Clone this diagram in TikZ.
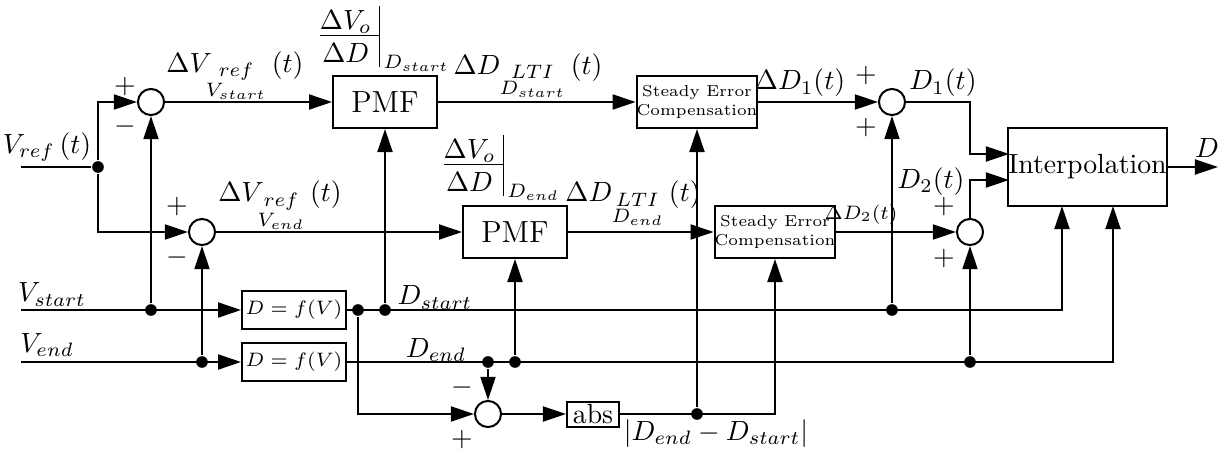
\documentclass[tikz,border=0pt]{standalone}
\usepackage{amsmath}
\usepackage{amssymb}
\usepackage{tikz}
\usetikzlibrary{arrows.meta}

\newcommand{\gainat}[1]{\renewcommand{\arraystretch}{0.5}%
  \begin{array}{@{}c@{\;}|@{}}\rule{0pt}{8.5pt}\Delta V_o\\ \cline{1-1}\rule{0pt}{10pt}\Delta D\end{array}_{\,#1}}
\newcommand{\stacksub}[2]{\underset{\scriptstyle #2}{#1}}

\begin{document}
\begin{tikzpicture}[x=0.36pt, y=-0.36pt, line width=0.72pt,
  >={Triangle[length=8.3pt,width=5.4pt]},
  blk/.style={draw, inner sep=0pt, minimum width=37.4pt, minimum height=18.7pt},
  secblk/.style={blk, align=center, font=\fontsize{5.7}{6.6}\selectfont},
  fblk/.style={draw, inner sep=0pt, minimum width=37.4pt, minimum height=13.7pt, font=\fontsize{7.5}{9}\selectfont},
  sum/.style={draw, circle, inner sep=0pt, minimum size=9.4pt},
  dot/.style={circle, fill, inner sep=0pt, minimum size=4.2pt},
  sgn/.style={inner sep=0pt},
  lbl/.style={anchor=base, inner sep=0pt}]
\useasboundingbox (0,0) rectangle (1223,454);

\coordinate (vin) at (21,167);
\coordinate (vs) at (21,310);
\coordinate (ve) at (21,362);
\node[dot] (jref) at (98,167) {};

\node[sum] (s1) at (151,102) {};
\node[sum] (s2) at (202,232) {};
\node[blk, font=\fontsize{11}{13}\selectfont] (pmf1) at (385,102) {PMF};
\node[blk, font=\fontsize{11}{13}\selectfont] (pmf2) at (515,232) {PMF};
\node[secblk] (sec1) at (697,102) {Steady Error\\Compensation};
\node[secblk] (sec2) at (775,232) {Steady Error\\Compensation};
\node[sum] (s3) at (892,102) {};
\node[sum] (s4) at (970,232) {};
\node[draw, inner sep=0pt, minimum width=56.5pt, minimum height=28.1pt] (interp) at (1087.5,167) {Interpolation};
\coordinate (i1) at (1009,154);
\coordinate (i2) at (1009,180);
\coordinate (ib1) at (1062,206);
\coordinate (ib2) at (1113,206);
\coordinate (out) at (1218,167);

\node[fblk] (fv1) at (294,310) {$D = f(V)$};
\node[fblk] (fv2) at (294,362) {$D = f(V)$};
\node[sum] (s5) at (488,414) {};
\node[draw, inner sep=0pt, minimum width=18.7pt, minimum height=9pt] (abs) at (593,414) {abs};

\node[dot] (d1) at (151,310) {};
\node[dot] (d2) at (202,362) {};
\node[dot] (d3) at (358,310) {};
\node[dot] (d4) at (385,310) {};
\node[dot] (d5) at (488,362) {};
\node[dot] (d6) at (515,362) {};
\node[dot] (d7) at (892,310) {};
\node[dot] (d8) at (970,362) {};
\node[dot] (d9) at (697,414) {};

\draw (vin) -- (jref);
\draw[->] (jref) |- (s1);
\draw[->] (jref) |- (s2);
\draw[->] (s1) -- (pmf1);
\draw[->] (pmf1) -- (sec1);
\draw[->] (sec1) -- (s3);
\draw[->] (s2) -- (pmf2);
\draw[->] (pmf2) -- (sec2);
\draw[->] (sec2) -- (s4);
\draw[->] (s3) -| (s4 |- i1) -- (i1);
\draw[->] (s4) |- (i2);
\draw[->] (interp) -- (out);

\draw[->] (vs) -- (fv1);
\draw[->] (ve) -- (fv2);
\draw[->] (d1) -- (s1);
\draw[->] (d2) -- (s2);
\draw[->] (fv1) -| (ib1);
\draw[->] (fv2) -| (ib2);
\draw[->] (d4) -- (pmf1);
\draw[->] (d6) -- (pmf2);
\draw[->] (d7) -- (s3);
\draw[->] (d8) -- (s4);
\draw[->] (d3) |- (s5);
\draw[->] (d5) -- (s5);
\draw[->] (s5) -- (abs);
\draw[->] (abs) -| (sec2);
\draw[->] (d9) -- (sec1);

\node[sgn] (p1) at (125,87) {$+$};
\node[sgn] (m1) at (125,127) {$-$};
\node[sgn] (p2) at (177,207) {$+$};
\node[sgn] (m2) at (177,258) {$-$};
\node[sgn] (p3) at (866,76) {$+$};
\node[sgn] (p4) at (866,128) {$+$};
\node[sgn] (p5) at (944,207) {$+$};
\node[sgn] (p6) at (944,259) {$+$};
\node[sgn] (m5) at (462,388) {$-$};
\node[sgn] (p7) at (462,440) {$+$};

\node[lbl] (lVref) at (47,153) {$V_{ref}\,(t)$};
\node[lbl] (lVs) at (52,302) {$V_{start}$};
\node[lbl] (lVe) at (47,352) {$V_{end}$};
\node[lbl] (lDs) at (435,305) {$D_{start}$};
\node[lbl] (lDe) at (436,357) {$D_{end}$};
\node[lbl] (ldV1) at (235,72) {$\Delta V_{\stacksub{ref}{V_{start}}}\,(t)$};
\node[lbl] (ldV2) at (280,202) {$\Delta V_{\stacksub{ref}{V_{end}}}\,(t)$};
\node[lbl] (ldD1) at (528,74) {$\Delta D_{\stacksub{LTI}{D_{start}}}\,(t)$};
\node[lbl] (ldD2) at (633,202) {$\Delta D_{\stacksub{LTI}{D_{end}}}\,(t)$};
\node[lbl] (lg1) at (385,43.6) {$\gainat{D_{start}}$};
\node[lbl] (lg2) at (502,172.6) {$\gainat{D_{end}}$};
\node[lbl] (lD1a) at (800,90) {$\Delta D_1(t)$};
\node[lbl] (lD1) at (943,90) {$D_1(t)$};
\node[lbl] (lD2) at (931,188) {$D_2(t)$};
\node[lbl, font=\scriptsize] (lD2a) at (861,219) {$\Delta D_2(t)$};
\node[lbl] (lD) at (1207,157) {$D$};
\node[lbl] (labs) at (716,440) {$|D_{end}-D_{start}|$};
\end{tikzpicture}
\end{document}
